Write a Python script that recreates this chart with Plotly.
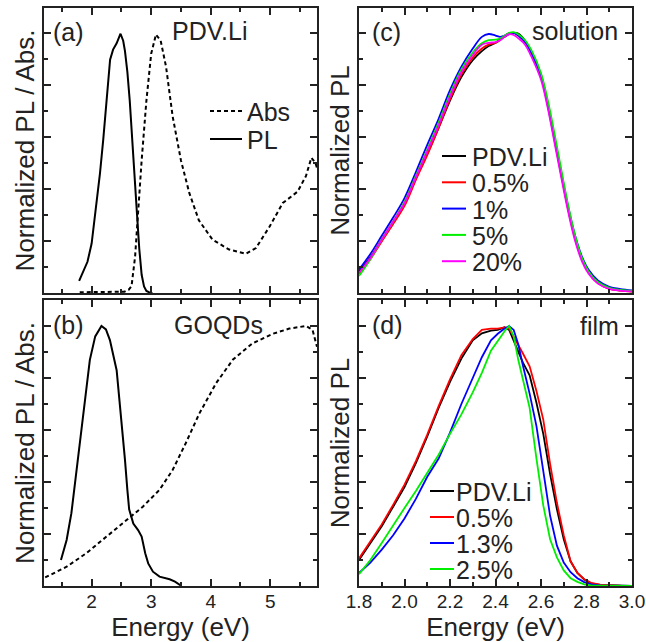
import plotly.graph_objects as go

# ---------------- data ----------------
# (a) PDV.Li
a_pl_E = [1.79, 1.86, 1.93, 2.00, 2.08, 2.14, 2.195, 2.25, 2.31, 2.36, 2.42, 2.485,
          2.53, 2.56, 2.60, 2.64, 2.68, 2.72, 2.76, 2.80, 2.84, 2.88, 2.92, 2.97, 3.02]
a_pl = [0.047, 0.083, 0.12, 0.19, 0.333, 0.46, 0.59, 0.74, 0.897, 0.936, 0.96, 0.997,
        0.97, 0.93, 0.85, 0.74, 0.61, 0.46, 0.31, 0.17, 0.07, 0.025, 0.008, 0.002, 0.0]
a_abs_E = [1.80, 2.20, 2.55, 2.62, 2.67, 2.73, 2.78, 2.84, 2.92, 3.00, 3.08, 3.16, 3.25,
           3.36, 3.50, 3.64, 3.80, 4.03, 4.31, 4.59, 4.76, 4.99, 5.21, 5.46, 5.60, 5.69,
           5.76, 5.785]
a_abs = [0.003, 0.003, 0.005, 0.012, 0.026, 0.14, 0.31, 0.51, 0.74, 0.92, 0.994, 0.97,
         0.87, 0.68, 0.51, 0.385, 0.28, 0.205, 0.167, 0.151, 0.173, 0.256, 0.346, 0.39,
         0.45, 0.52, 0.50, 0.48]

# (b) GOQDs
b_pl_E = [1.485, 1.58, 1.66, 1.77, 1.89, 1.97, 2.06, 2.165, 2.24, 2.307, 2.42, 2.50,
          2.56, 2.60, 2.63, 2.70, 2.78, 2.84, 2.90, 2.95, 3.03, 3.14, 3.31, 3.40, 3.51]
b_pl = [0.10, 0.177, 0.28, 0.485, 0.715, 0.87, 0.96, 1.0, 0.987, 0.946, 0.83, 0.64,
        0.485, 0.37, 0.295, 0.24, 0.215, 0.19, 0.126, 0.087, 0.055, 0.036, 0.026, 0.017, 0.0]
b_abs_E = [1.22, 1.58, 1.91, 2.25, 2.58, 2.86, 3.14, 3.36, 3.58, 3.81, 4.09, 4.37, 4.70,
           5.04, 5.32, 5.60, 5.71, 5.76, 5.785]
b_abs = [0.033, 0.074, 0.126, 0.19, 0.254, 0.305, 0.37, 0.446, 0.549, 0.664, 0.78, 0.87,
         0.933, 0.97, 0.99, 1.0, 0.985, 0.946, 0.92]

# (c) solution
sol_E = [1.80, 1.85, 1.90, 1.95, 2.00, 2.05, 2.10, 2.15, 2.20, 2.25, 2.30, 2.34, 2.37,
         2.40, 2.42, 2.44, 2.46, 2.48, 2.50, 2.53, 2.56, 2.60, 2.63, 2.66, 2.69, 2.72,
         2.75, 2.78, 2.81, 2.85, 2.90, 2.95, 3.00]
sol_names = ["PDV.Li", "0.5%", "1%", "5%", "20%"]
sol_colors = ["#000000", "#ff0000", "#0000ff", "#00ee00", "#ff00ff"]
sol_pdv = [0.083, 0.137, 0.205, 0.27, 0.34, 0.44, 0.535, 0.635, 0.74, 0.83, 0.895, 0.93,
           0.95, 0.962, 0.975, 0.985, 0.995, 1.0, 0.998, 0.97, 0.92, 0.833, 0.72, 0.585,
           0.45, 0.32, 0.21, 0.13, 0.08, 0.04, 0.017, 0.01, 0.006]
sol_05 = [0.075, 0.13, 0.198, 0.265, 0.335, 0.435, 0.53, 0.635, 0.745, 0.84, 0.905, 0.94,
          0.955, 0.962, 0.972, 0.988, 0.998, 1.0, 0.99, 0.965, 0.925, 0.84, 0.73, 0.595,
          0.455, 0.32, 0.21, 0.13, 0.078, 0.038, 0.016, 0.009, 0.005]
sol_1 = [0.09, 0.15, 0.22, 0.29, 0.365, 0.465, 0.57, 0.67, 0.78, 0.87, 0.94, 0.985,
         0.996, 0.99, 0.985, 0.99, 0.998, 1.0, 0.99, 0.965, 0.918, 0.835, 0.725, 0.595,
         0.46, 0.33, 0.22, 0.14, 0.088, 0.048, 0.024, 0.015, 0.01]
sol_5 = [0.065, 0.13, 0.205, 0.275, 0.35, 0.45, 0.55, 0.655, 0.765, 0.86, 0.925, 0.96,
         0.972, 0.974, 0.978, 0.99, 1.0, 1.003, 0.995, 0.972, 0.93, 0.845, 0.74, 0.61,
         0.47, 0.335, 0.22, 0.135, 0.082, 0.042, 0.02, 0.012, 0.008]
sol_20 = [0.078, 0.135, 0.205, 0.275, 0.345, 0.445, 0.545, 0.645, 0.755, 0.85, 0.915,
          0.955, 0.962, 0.965, 0.972, 0.985, 0.995, 0.992, 0.98, 0.955, 0.905, 0.82,
          0.71, 0.575, 0.44, 0.31, 0.2, 0.122, 0.073, 0.036, 0.016, 0.009, 0.006]
sol_vals = [sol_pdv, sol_05, sol_1, sol_5, sol_20]

# (d) film
film_E = [1.80, 1.85, 1.90, 1.95, 2.00, 2.05, 2.10, 2.15, 2.20, 2.25, 2.30, 2.34, 2.38,
          2.41, 2.44, 2.46, 2.48, 2.50, 2.52, 2.55, 2.58, 2.61, 2.64, 2.67, 2.70, 2.73,
          2.76, 2.79, 2.82, 2.86, 2.90, 2.95, 3.00]
film_names = ["PDV.Li", "0.5%", "1.3%", "2.5%"]
film_colors = ["#000000", "#ff0000", "#0000ff", "#00ee00"]
film_pdv = [0.10, 0.165, 0.23, 0.305, 0.38, 0.473, 0.575, 0.685, 0.785, 0.875, 0.945,
            0.972, 0.982, 0.985, 0.995, 0.985, 0.945, 0.90, 0.86, 0.81, 0.705, 0.585,
            0.43, 0.295, 0.18, 0.095, 0.05, 0.025, 0.01, 0.004, 0.002, 0.001, 0.0]
film_05 = [0.106, 0.17, 0.237, 0.312, 0.39, 0.48, 0.582, 0.692, 0.795, 0.888, 0.95,
           0.985, 0.99, 0.99, 0.995, 0.99, 0.96, 0.925, 0.895, 0.845, 0.75, 0.64, 0.47,
           0.32, 0.195, 0.095, 0.05, 0.026, 0.012, 0.005, 0.002, 0.001, 0.0]
film_13 = [0.05, 0.09, 0.14, 0.195, 0.26, 0.335, 0.42, 0.49, 0.59, 0.70, 0.80, 0.88,
           0.945, 0.97, 0.99, 1.0, 0.985, 0.93, 0.85, 0.74, 0.615, 0.45, 0.27, 0.155,
           0.09, 0.053, 0.03, 0.015, 0.006, 0.002, 0.001, 0.0, 0.0]
film_25 = [0.045, 0.10, 0.165, 0.235, 0.30, 0.365, 0.435, 0.505, 0.585, 0.66, 0.745,
           0.82, 0.905, 0.945, 0.98, 1.0, 0.96, 0.87, 0.80, 0.685, 0.49, 0.31, 0.18,
           0.11, 0.06, 0.03, 0.016, 0.006, 0.002, 0.001, 0.0, 0.0, 0.0]
film_vals = [film_pdv, film_05, film_13, film_25]

# ---------------- figure ----------------
W, H = 646, 642
FONT = "Liberation Sans, Arial, sans-serif"
TXT = "#222222"


def px(x):
    return x / W


def py(y):
    return 1 - y / H


fig = go.Figure()

# (a)
fig.add_trace(go.Scatter(x=a_abs_E, y=a_abs, mode="lines", xaxis="x", yaxis="y",
                         line=dict(color="black", width=2, dash="4px,3px"), showlegend=False))
fig.add_trace(go.Scatter(x=a_pl_E, y=a_pl, mode="lines", xaxis="x", yaxis="y",
                         line=dict(color="black", width=2), showlegend=False))
# (b)
fig.add_trace(go.Scatter(x=b_abs_E, y=b_abs, mode="lines", xaxis="x2", yaxis="y2",
                         line=dict(color="black", width=2, dash="4px,3px"), showlegend=False))
fig.add_trace(go.Scatter(x=b_pl_E, y=b_pl, mode="lines", xaxis="x2", yaxis="y2",
                         line=dict(color="black", width=2), showlegend=False))
# (c)
for name, col, vals in zip(sol_names, sol_colors, sol_vals):
    fig.add_trace(go.Scatter(x=sol_E, y=vals, mode="lines", xaxis="x3", yaxis="y3", name=name,
                             line=dict(color=col, width=1.8, shape="spline"), showlegend=False))
# (d)
for name, col, vals in zip(film_names, film_colors, film_vals):
    fig.add_trace(go.Scatter(x=film_E, y=vals, mode="lines", xaxis="x4", yaxis="y4", name=name,
                             line=dict(color=col, width=1.8), showlegend=False))

LEFT = [px(44), px(317)]
RIGHT = [px(359), px(632)]
TOP = [py(293), py(8)]
BOT = [py(586), py(300)]


def axstyle(minor_dtick, **kw):
    d = dict(showline=True, linecolor=TXT, linewidth=1.6, mirror="allticks",
             ticks="inside", ticklen=7, tickwidth=1.5, tickcolor=TXT,
             showgrid=False, zeroline=False, automargin=False,
             tickfont=dict(family=FONT, size=19, color=TXT), ticklabelstandoff=-3,
             minor=dict(ticks="inside", ticklen=4, tickwidth=1.5, tickcolor=TXT,
                        dtick=minor_dtick, showgrid=False))
    d.update(kw)
    return d


ytitle_font = dict(family=FONT, size=26, color=TXT)
xtitle = dict(text="Energy (eV)", font=dict(family=FONT, size=26, color=TXT), standoff=0)

fig.update_layout(
    width=W, height=H, margin=dict(l=0, r=0, t=0, b=0, autoexpand=False),
    paper_bgcolor="white", plot_bgcolor="white",
    font=dict(family=FONT, color=TXT),
    xaxis=axstyle(0.5, domain=LEFT, anchor="y", range=[1.2, 5.785], dtick=1, tick0=0,
                  showticklabels=False),
    yaxis=axstyle(0.1, domain=TOP, anchor="x", range=[0, 1.096], dtick=0.2, tick0=0,
                  showticklabels=False,
                  title=dict(text="Normalized PL / Abs.", font=ytitle_font, standoff=0)),
    xaxis2=axstyle(0.5, domain=LEFT, anchor="y2", range=[1.2, 5.785], dtick=1, tick0=0,
                   title=xtitle),
    yaxis2=axstyle(0.1, domain=BOT, anchor="x2", range=[0, 1.1], dtick=0.2, tick0=0,
                   showticklabels=False,
                   title=dict(text="Normalized PL / Abs.", font=ytitle_font, standoff=0)),
    xaxis3=axstyle(0.1, domain=RIGHT, anchor="y3", range=[1.8, 3.0], dtick=0.2, tick0=0,
                   showticklabels=False),
    yaxis3=axstyle(0.1, domain=TOP, anchor="x3", range=[0, 1.096], dtick=0.2, tick0=0,
                   showticklabels=False,
                   title=dict(text="Normalized PL", font=ytitle_font, standoff=0)),
    xaxis4=axstyle(0.1, domain=RIGHT, anchor="y4", range=[1.8, 3.0], dtick=0.2, tick0=0,
                   tickformat=".1f", title=xtitle),
    yaxis4=axstyle(0.1, domain=BOT, anchor="x4", range=[0, 1.1], dtick=0.2, tick0=0,
                   showticklabels=False,
                   title=dict(text="Normalized PL", font=ytitle_font, standoff=0)),
)

ann_font = dict(family=FONT, size=25, color=TXT)
annotations = []
shapes = []


def label(text, x, y, anchor="left"):
    annotations.append(dict(text=text, x=px(x), y=py(y), xref="paper", yref="paper",
                            xanchor=anchor, yanchor="middle", showarrow=False, font=ann_font))


label("(a)", 51, 32)
label("PDV.Li", 210, 31, "center")
label("(b)", 51, 325)
label("GOQDs", 218, 325, "center")
label("(c)", 370, 32)
label("solution", 620, 31, "right")
label("(d)", 370, 325)
label("film", 621, 326, "right")


def legend_entry(text, x0, x1, xt, y, color, dash="solid"):
    shapes.append(dict(type="line", xref="paper", yref="paper", x0=px(x0), x1=px(x1),
                       y0=py(y), y1=py(y), line=dict(color=color, width=2, dash=dash)))
    label(text, xt, y + 1)


# (a) legend
legend_entry("Abs", 210, 242, 245, 111, "black", "4px,3px")
legend_entry("PL", 210, 242, 245, 139, "black")
# (c) legend
for i, (n, c) in enumerate(zip(sol_names, sol_colors)):
    legend_entry(n, 442, 466, 470, 156 + 26.3 * i, c)
# (d) legend
for i, (n, c) in enumerate(zip(film_names, film_colors)):
    legend_entry(n, 430, 454, 454, 491 + 26 * i, c)

fig.update_layout(annotations=annotations, shapes=shapes)
fig.write_html("out.html")
